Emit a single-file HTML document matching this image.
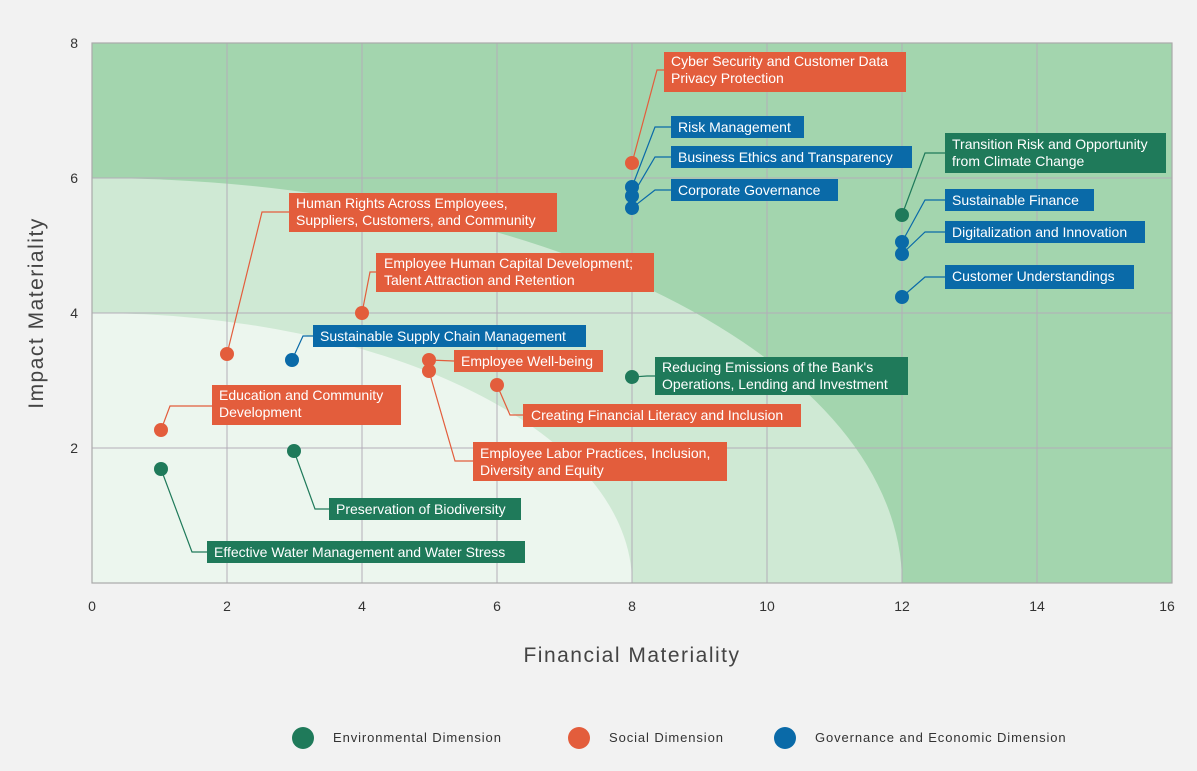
<!DOCTYPE html>
<html><head><meta charset="utf-8"><style>
html,body{margin:0;padding:0;background:#f2f2f2;}
svg{display:block;font-family:"Liberation Sans",Arial,sans-serif;}
.lb{font-size:14px;fill:#fff;}
.tk{font-size:14px;fill:#333;}
</style></head><body>
<svg width="1197" height="771" viewBox="0 0 1197 771">
<rect width="1197" height="771" fill="#f2f2f2"/>
<rect x="92" y="43" width="1080" height="540" fill="#a3d5ae"/>
<path d="M92,178 A810,405 0 0 1 902,583 L92,583 Z" fill="#cfe9d4"/>
<path d="M92,313 A540,270 0 0 1 632,583 L92,583 Z" fill="#ecf6ee"/>
<g stroke="#b3adb8" stroke-width="1">
<line x1="227" y1="43" x2="227" y2="583"/><line x1="362" y1="43" x2="362" y2="583"/>
<line x1="497" y1="43" x2="497" y2="583"/><line x1="632" y1="43" x2="632" y2="583"/>
<line x1="767" y1="43" x2="767" y2="583"/><line x1="902" y1="43" x2="902" y2="583"/>
<line x1="1037" y1="43" x2="1037" y2="583"/>
<line x1="92" y1="178" x2="1172" y2="178"/><line x1="92" y1="313" x2="1172" y2="313"/>
<line x1="92" y1="448" x2="1172" y2="448"/>
</g>
<rect x="92" y="43" width="1080" height="540" fill="none" stroke="#aaa" stroke-width="1.2"/>
<g class="tk" text-anchor="middle">
<text x="92" y="611">0</text><text x="227" y="611">2</text><text x="362" y="611">4</text><text x="497" y="611">6</text><text x="632" y="611">8</text><text x="767" y="611">10</text><text x="902" y="611">12</text><text x="1037" y="611">14</text><text x="1167" y="611">16</text>
</g>
<g class="tk" text-anchor="end">
<text x="78" y="48">8</text><text x="78" y="183">6</text><text x="78" y="318">4</text><text x="78" y="453">2</text>
</g>
<text x="632" y="662" text-anchor="middle" font-size="21" letter-spacing="1.5" fill="#444">Financial Materiality</text>
<text transform="translate(43,313) rotate(-90)" text-anchor="middle" font-size="21" letter-spacing="1.5" fill="#444">Impact Materiality</text>

<g fill="none" stroke-width="1.2">
<polyline stroke="#1f7a5a" points="161,469 192,552 207,552"/>
<polyline stroke="#1f7a5a" points="294,451 315,509 329,509"/>
<polyline stroke="#1f7a5a" points="632,377 647,376 655,376"/>
<polyline stroke="#1f7a5a" points="902,215 925,153 945,153"/>
<polyline stroke="#e35d3c" points="161,430 170,406 212,406"/>
<polyline stroke="#e35d3c" points="227,354 262,212 289,212"/>
<polyline stroke="#e35d3c" points="362,313 370,272 376,272"/>
<polyline stroke="#e35d3c" points="429,360 454,361"/>
<polyline stroke="#e35d3c" points="429,371 455,461 473,461"/>
<polyline stroke="#e35d3c" points="497,385 510,415 523,415"/>
<polyline stroke="#e35d3c" points="632,163 657,70 664,70"/>
<polyline stroke="#0a6aa8" points="292,360 303,336 313,336"/>
<polyline stroke="#0a6aa8" points="632,187 655,127 671,127"/>
<polyline stroke="#0a6aa8" points="632,196 655,157 671,157"/>
<polyline stroke="#0a6aa8" points="632,208 655,190 671,190"/>
<polyline stroke="#0a6aa8" points="902,242 925,200 945,200"/>
<polyline stroke="#0a6aa8" points="902,254 925,232 945,232"/>
<polyline stroke="#0a6aa8" points="902,297 925,277 945,277"/>
</g>

<g class="lb">
<rect x="664" y="52" width="242" height="40" fill="#e35d3c"/><text x="671" y="66">Cyber Security and Customer Data</text><text x="671" y="83">Privacy Protection</text>
<rect x="671" y="116" width="133" height="22" fill="#0a6aa8"/><text x="678" y="132">Risk Management</text>
<rect x="671" y="146" width="241" height="22" fill="#0a6aa8"/><text x="678" y="162">Business Ethics and Transparency</text>
<rect x="671" y="179" width="167" height="22" fill="#0a6aa8"/><text x="678" y="195">Corporate Governance</text>
<rect x="945" y="133" width="221" height="40" fill="#1f7a5a"/><text x="952" y="149">Transition Risk and Opportunity</text><text x="952" y="166">from Climate Change</text>
<rect x="945" y="189" width="149" height="22" fill="#0a6aa8"/><text x="952" y="205">Sustainable Finance</text>
<rect x="945" y="221" width="200" height="22" fill="#0a6aa8"/><text x="952" y="237">Digitalization and Innovation</text>
<rect x="945" y="265" width="189" height="24" fill="#0a6aa8"/><text x="952" y="281">Customer Understandings</text>
<rect x="289" y="193" width="268" height="39" fill="#e35d3c"/><text x="296" y="208">Human Rights Across Employees,</text><text x="296" y="225">Suppliers, Customers, and Community</text>
<rect x="376" y="253" width="278" height="39" fill="#e35d3c"/><text x="384" y="268">Employee Human Capital Development;</text><text x="384" y="285">Talent Attraction and Retention</text>
<rect x="313" y="325" width="273" height="22" fill="#0a6aa8"/><text x="320" y="341">Sustainable Supply Chain Management</text>
<rect x="454" y="350" width="149" height="22" fill="#e35d3c"/><text x="461" y="366">Employee Well-being</text>
<rect x="473" y="442" width="254" height="39" fill="#e35d3c"/><text x="480" y="458">Employee Labor Practices, Inclusion,</text><text x="480" y="475">Diversity and Equity</text>
<rect x="523" y="404" width="278" height="23" fill="#e35d3c"/><text x="531" y="420">Creating Financial Literacy and Inclusion</text>
<rect x="655" y="357" width="253" height="38" fill="#1f7a5a"/><text x="662" y="372">Reducing Emissions of the Bank's</text><text x="662" y="389">Operations, Lending and Investment</text>
<rect x="212" y="385" width="189" height="40" fill="#e35d3c"/><text x="219" y="400">Education and Community</text><text x="219" y="417">Development</text>
<rect x="329" y="498" width="192" height="22" fill="#1f7a5a"/><text x="336" y="514">Preservation of Biodiversity</text>
<rect x="207" y="541" width="318" height="22" fill="#1f7a5a"/><text x="214" y="557">Effective Water Management and Water Stress</text>
</g>

<g>
<circle cx="161" cy="469" r="7" fill="#1f7a5a"/><circle cx="294" cy="451" r="7" fill="#1f7a5a"/>
<circle cx="632" cy="377" r="7" fill="#1f7a5a"/><circle cx="902" cy="215" r="7" fill="#1f7a5a"/>
<circle cx="161" cy="430" r="7" fill="#e35d3c"/><circle cx="227" cy="354" r="7" fill="#e35d3c"/>
<circle cx="362" cy="313" r="7" fill="#e35d3c"/><circle cx="429" cy="360" r="7" fill="#e35d3c"/>
<circle cx="429" cy="371" r="7" fill="#e35d3c"/><circle cx="497" cy="385" r="7" fill="#e35d3c"/>
<circle cx="632" cy="163" r="7" fill="#e35d3c"/>
<circle cx="292" cy="360" r="7" fill="#0a6aa8"/><circle cx="632" cy="187" r="7" fill="#0a6aa8"/>
<circle cx="632" cy="196" r="7" fill="#0a6aa8"/><circle cx="632" cy="208" r="7" fill="#0a6aa8"/>
<circle cx="902" cy="242" r="7" fill="#0a6aa8"/><circle cx="902" cy="254" r="7" fill="#0a6aa8"/>
<circle cx="902" cy="297" r="7" fill="#0a6aa8"/>
</g>

<g font-size="13" fill="#333" letter-spacing="0.9">
<circle cx="303" cy="738" r="11" fill="#1f7a5a"/><text x="333" y="742">Environmental Dimension</text>
<circle cx="579" cy="738" r="11" fill="#e35d3c"/><text x="609" y="742">Social Dimension</text>
<circle cx="785" cy="738" r="11" fill="#0a6aa8"/><text x="815" y="742">Governance and Economic Dimension</text>
</g>
</svg>
</body></html>
